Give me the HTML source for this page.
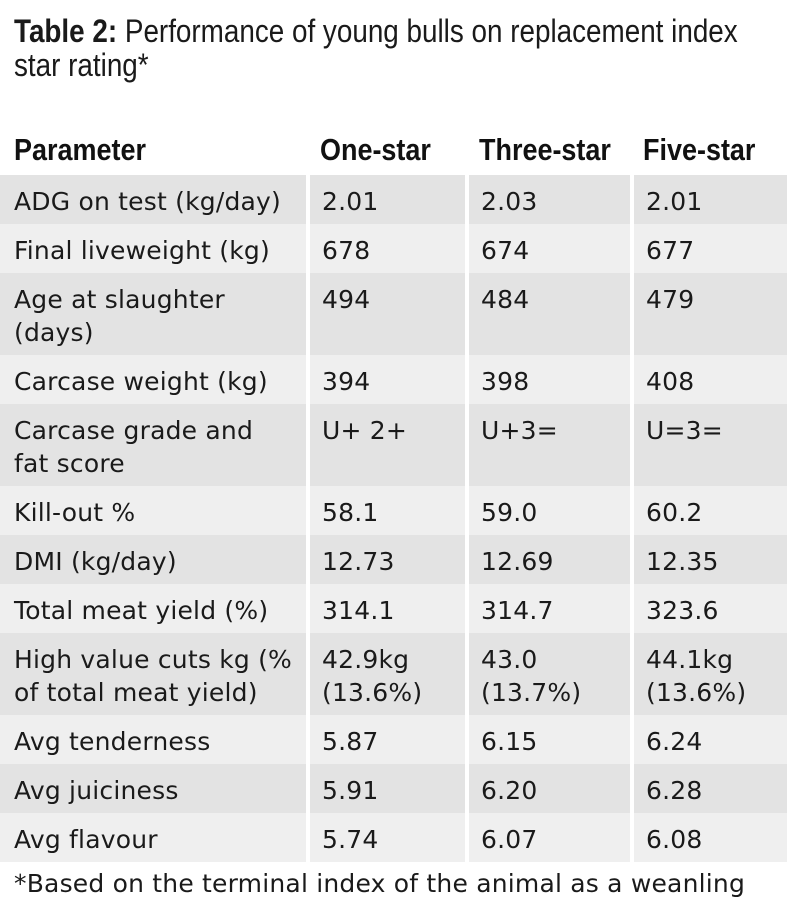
<!DOCTYPE html>
<html><head><meta charset="utf-8"><style>
body{margin:0;width:790px;height:918px;background:#fff;position:relative;overflow:hidden;font-family:"DejaVu Sans","Liberation Sans",sans-serif;color:#1a1a1a}
.t{position:absolute;left:14px;top:14px;font-family:"Liberation Sans",sans-serif;font-size:32px;line-height:34px;color:#1a1a1a;white-space:nowrap;transform:scaleX(0.87);transform-origin:0 0}
.h{position:absolute;top:132px;font-family:"Liberation Sans",sans-serif;font-weight:bold;font-size:31px;color:#111;white-space:nowrap;transform:scaleX(0.87);transform-origin:0 0}
.c{position:absolute;box-sizing:border-box;padding:10px 0 0 14px;font-size:25px;line-height:33px;letter-spacing:0.2px}
.d{background:#e3e3e3}.l{background:#efefef}
.f{position:absolute;left:14px;top:869px;font-size:25px;letter-spacing:0.2px;white-space:nowrap}
</style></head><body>
<div class="t"><b>Table 2:</b> Performance of young bulls on replacement index<br>star rating*</div>
<div class="h" style="left:14px">Parameter</div>
<div class="h" style="left:320px">One-star</div>
<div class="h" style="left:479px">Three-star</div>
<div class="h" style="left:643px">Five-star</div>
<div id="rows"></div>
<div class="f">*Based on the terminal index of the animal as a weanling</div>
<script>
var R=[["ADG on test (kg/day)","2.01","2.03","2.01",1],["Final liveweight (kg)","678","674","677",1],["Age at slaughter<br>(days)","494","484","479",2],["Carcase weight (kg)","394","398","408",1],["Carcase grade and<br>fat score","U+ 2+","U+3=","U=3=",2],["Kill-out %","58.1","59.0","60.2",1],["DMI (kg/day)","12.73","12.69","12.35",1],["Total meat yield (%)","314.1","314.7","323.6",1],["High value cuts kg (%<br>of total meat yield)","42.9kg<br>(13.6%)","43.0<br>(13.7%)","44.1kg<br>(13.6%)",2],["Avg tenderness","5.87","6.15","6.24",1],["Avg juiciness","5.91","6.20","6.28",1],["Avg flavour","5.74","6.07","6.08",1]];
var X=[[0,306],[310,465],[469,630],[634,787]],y=175,h="";
R.forEach(function(r,i){var H=r[4]==1?49:82;var cls=i%2?"l":"d";
for(var j=0;j<4;j++){h+='<div class="c '+cls+'" style="left:'+X[j][0]+'px;width:'+(X[j][1]-X[j][0])+'px;top:'+y+'px;height:'+H+'px;'+(j?'padding-left:12px':'')+'">'+r[j]+'</div>';}
y+=H;});
document.getElementById("rows").innerHTML=h;
</script>
</body></html>
